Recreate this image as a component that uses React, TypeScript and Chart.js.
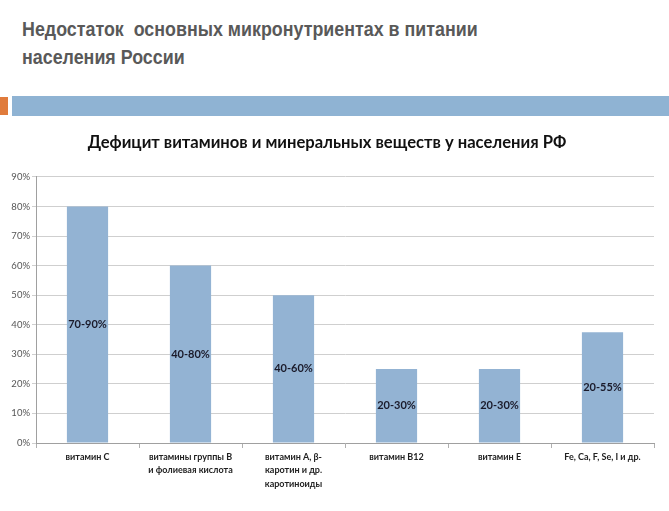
import React, { useEffect, useRef } from "react";
import { Chart, registerables } from "chart.js";

Chart.register(...registerables);

const slideTitle = ["Недостаток  основных микронутриентах в питании", "населения России"];
const chartTitle = "Дефицит витаминов и минеральных веществ у населения РФ";
const categories: (string | string[])[] = [
  "витамин С",
  ["витамины группы В", "и фолиевая кислота"],
  ["витамин А, β-", "каротин и др.", "каротиноиды"],
  "витамин В12",
  "витамин Е",
  "Fe, Ca, F, Se, I и др.",
];
const values = [80, 60, 50, 25, 25, 37.5];
const rangeLabels = ["70-90%", "40-80%", "40-60%", "20-30%", "20-30%", "20-55%"];
const yTicks = [0, 10, 20, 30, 40, 50, 60, 70, 80, 90];

const centerLabels = {
  id: "centerLabels",
  afterDatasetsDraw(chart: any) {
    const ctx = chart.ctx;
    const meta = chart.getDatasetMeta(0);
    ctx.save();
    ctx.font = "bold 11px Lato, 'Open Sans', sans-serif";
    ctx.fillStyle = "#1a1a2a";
    ctx.textAlign = "center";
    ctx.textBaseline = "middle";
    meta.data.forEach((bar: any, i: number) => {
      const y = (bar.y + bar.base) / 2;
      ctx.fillText(rangeLabels[i], bar.x, y);
    });
    ctx.restore();
  },
};

export default function App() {
  const ref = useRef<HTMLCanvasElement>(null);
  useEffect(() => {
    document.body.style.margin = "0";
    const chart = new Chart(ref.current!, {
      type: "bar",
      data: {
        labels: categories,
        datasets: [
          {
            data: values,
            backgroundColor: "#93b3d3",
            barPercentage: 0.4,
            categoryPercentage: 1,
          },
        ],
      },
      options: {
        animation: false,
        responsive: false,
        maintainAspectRatio: false,
        layout: { padding: { left: 0, right: 15, top: 0, bottom: 0 } },
        plugins: {
          legend: { display: false },
          tooltip: { enabled: false },
          title: {
            display: true,
            text: chartTitle,
            color: "#111",
            font: { family: "Lato, 'Open Sans', sans-serif", size: 16.6, weight: "bold" },
            padding: { top: 8, bottom: 24 },
          },
        },
        scales: {
          x: {
            offset: true,
            grid: {
              display: true,
              drawOnChartArea: false,
              offset: true,
              tickLength: 5,
              color: "#b0b0b0",
            },
            border: { color: "#a0a0a0" },
            ticks: {
              color: "#222",
              font: { family: "Lato, 'Open Sans', sans-serif", size: 9, weight: "bold", lineHeight: 1.5 },
              maxRotation: 0,
              autoSkip: false,
              padding: 2,
            },
            afterFit(scale: any) {
              scale.height = 68;
            },
          },
          y: {
            min: 0,
            max: 90,
            afterBuildTicks(scale: any) {
              scale.ticks = yTicks.map((v) => ({ value: v }));
            },
            grid: { color: "#cfcfcf", tickLength: 4 },
            border: { color: "#a0a0a0" },
            ticks: {
              color: "#555",
              font: { family: "Lato, 'Open Sans', sans-serif", size: 9.5 },
              padding: 2,
              callback: (v: any) => v + "%",
            },
            afterFit(scale: any) {
              scale.width = 36;
            },
          },
        },
      },
      plugins: [centerLabels],
    });
    return () => chart.destroy();
  }, []);

  return (
    <div style={{ position: "relative", width: 669, height: 511, background: "#fff", overflow: "hidden" }}>
      <div
        style={{
          position: "absolute",
          left: 22,
          top: 15,
          fontFamily: "'Liberation Sans', Arial, sans-serif",
          fontWeight: "bold",
          fontSize: 21,
          lineHeight: "28px",
          color: "#595959",
          whiteSpace: "pre",
          transform: "scaleX(0.85)",
          transformOrigin: "left top",
        }}
      >
        {slideTitle[0]}
        <br />
        {slideTitle[1]}
      </div>
      <div style={{ position: "absolute", left: 0, top: 97, width: 8, height: 18, background: "#e07b3c" }} />
      <div style={{ position: "absolute", left: 12, top: 96, width: 657, height: 20, background: "#8fb3d3" }} />
      <canvas ref={ref} width={669} height={386} style={{ position: "absolute", left: 0, top: 125 }} />
    </div>
  );
}
